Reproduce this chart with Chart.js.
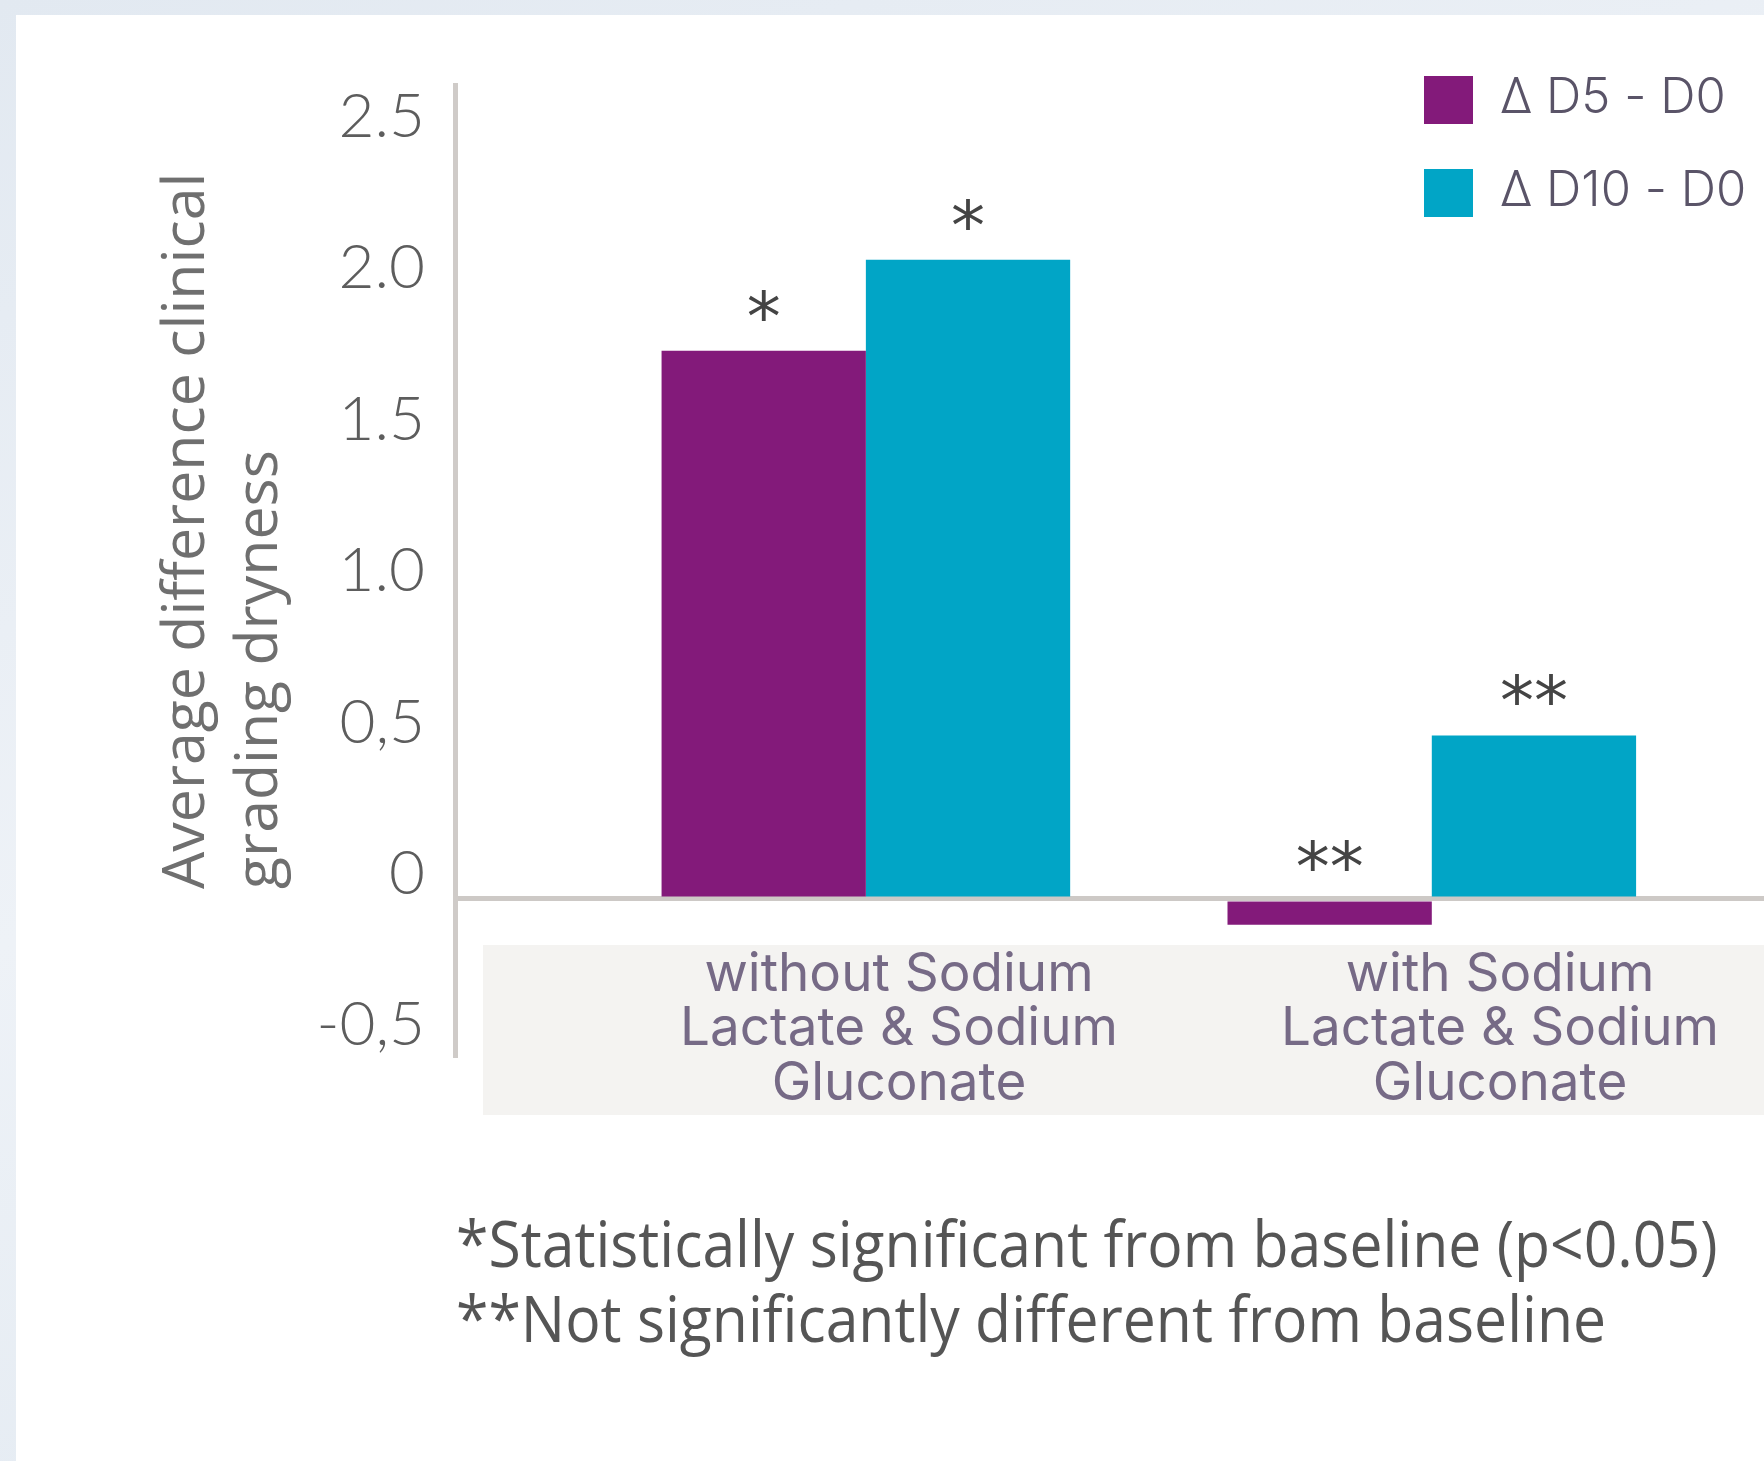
<!DOCTYPE html>
<html>
<head>
<meta charset="utf-8">
<script src="https://cdn.jsdelivr.net/npm/chart.js@4.4.1/dist/chart.umd.min.js"></script>
<style>
  html, body { margin: 0; padding: 0; }
  body { width: 1764px; height: 1461px; position: relative; overflow: hidden;
         background: linear-gradient(160deg, #e2e9f1, #eef2f7 45%, #dde6ef); font-family: 'Open Sans', sans-serif; }
  #panel { position: absolute; left: 16px; top: 15px; right: 0; bottom: 0; background: #fff; }
  #labelBox { position: absolute; left: 483px; top: 945px; width: 1281px; height: 170px; background: #f4f3f1; }
  #chart { position: absolute; left: 0; top: 0; }
  #ytitle { position: absolute; left: 145px; top: 889px; transform-origin: 0 0; transform: rotate(-90deg);
            font-size: 59px; line-height: 73px; color: #6f6f6f; white-space: nowrap; }
  #notes { position: absolute; left: 456px; top: 1205px; font-size: 64px; line-height: 75px; color: #555;
           white-space: nowrap; transform-origin: 0 0; transform: scaleX(.92); }
</style>
</head>
<body>
<div id="panel"></div>
<div id="labelBox"></div>
<canvas id="chart" width="1764" height="1461"></canvas>
<div id="ytitle"></div>
<div id="notes"></div>
<script>
const categories = [
  ['without Sodium', 'Lactate & Sodium', 'Gluconate'],
  ['with Sodium', 'Lactate & Sodium', 'Gluconate']
];
const seriesNames = ['\u0394 D5 - D0', '\u0394 D10 - D0'];
const d5Values = [1.81, -0.085];
const d10Values = [2.11, 0.54];
const d5Marks = ['*', '**'];
const d10Marks = ['*', '**'];
const yTicks = [-0.5, 0, 0.5, 1, 1.5, 2, 2.5];
const yTickLabels = ['-0,5', '0', '0,5', '1.0', '1.5', '2.0', '2.5'];
const yTitle = ['Average difference clinical', 'grading dryness'];
const footnotes = ['*Statistically significant from baseline (p<0.05)', '**Not significantly different from baseline'];

document.getElementById('ytitle').innerHTML = yTitle.join('<br>');
document.getElementById('notes').innerHTML = footnotes.join('<br>');

// categories sit at 1, 2 on a linear x scale so the axis can start left of the first group
const positions = categories.map((c, i) => i + 1);
const toPoints = vals => vals.map((v, i) => ({ x: positions[i], y: v }));
const fixTicks = vals => s => { s.ticks = vals.map(v => ({ value: v })); };

// asterisks over each bar (over the zero line for negative bars)
const marksPlugin = {
  id: 'marks',
  afterDatasetsDraw(chart) {
    const ctx = chart.ctx;
    ctx.save();
    ctx.font = '68px "DejaVu Sans"';
    ctx.fillStyle = '#444';
    ctx.textAlign = 'center';
    ctx.textBaseline = 'alphabetic';
    chart.data.datasets.forEach((ds, di) => {
      chart.getDatasetMeta(di).data.forEach((bar, i) => {
        ctx.fillText(ds.marks[i], bar.x, Math.min(bar.y, bar.base) - 11);
      });
    });
    ctx.restore();
  }
};

// legend in the top right corner of the plot
const legendPlugin = {
  id: 'cornerLegend',
  afterDraw(chart) {
    const ctx = chart.ctx, area = chart.chartArea;
    ctx.save();
    ctx.font = '300 49px Inter';
    ctx.textBaseline = 'middle';
    chart.data.datasets.forEach((ds, i) => {
      const x = area.right - 340, y = area.top - 9 + i * 93;
      ctx.fillStyle = ds.backgroundColor;
      ctx.fillRect(x, y, 49, 48);
      ctx.fillStyle = '#5a5468';
      ctx.fillText(ds.label, x + 76, y + 22);
    });
    ctx.restore();
  }
};

new Chart(document.getElementById('chart'), {
  type: 'bar',
  data: {
    datasets: [
      { label: seriesNames[0], data: toPoints(d5Values), marks: d5Marks, backgroundColor: '#831a7a' },
      { label: seriesNames[1], data: toPoints(d10Values), marks: d10Marks, backgroundColor: '#01a5c6' }
    ]
  },
  options: {
    responsive: false,
    animation: false,
    layout: { padding: { top: 85, bottom: 406, left: 0, right: 0 } },
    datasets: { bar: { categoryPercentage: 0.722, barPercentage: 1, borderWidth: 0 } },
    plugins: { legend: { display: false }, tooltip: { enabled: false } },
    scales: {
      x: { type: 'linear', offset: false, min: 0.274, max: 2.587, display: false, afterBuildTicks: fixTicks(positions) },
      cat: {
        type: 'linear', axis: 'x', offset: false, position: { y: -0.16 }, min: 0.2612, max: 2.4392,
        grid: { display: false, drawTicks: false }, border: { display: false },
        afterBuildTicks: fixTicks(positions),
        ticks: {
          autoSkip: false, maxRotation: 0, padding: 0, color: '#766a86',
          font: { family: 'Inter', size: 53, lineHeight: 1.03 },
          callback: (v, i) => categories[i]
        }
      },
      y: {
        min: -0.515, max: 2.687, z: 1,
        afterFit: s => { s.width = 455; },
        afterBuildTicks: fixTicks(yTicks),
        grid: { drawTicks: false, lineWidth: 5,
                color: c => (c.tick && c.tick.value === 0) ? 'rgba(196,191,188,0.85)' : 'transparent' },
        border: { color: '#cfcbc8', width: 5 },
        ticks: {
          padding: 30, labelOffset: -25, color: '#5d5d5d',
          font: { family: 'Lato', size: 62, weight: 300 },
          callback: v => yTickLabels[yTicks.indexOf(v)]
        }
      }
    }
  },
  plugins: [marksPlugin, legendPlugin]
});
</script>
</body>
</html>
